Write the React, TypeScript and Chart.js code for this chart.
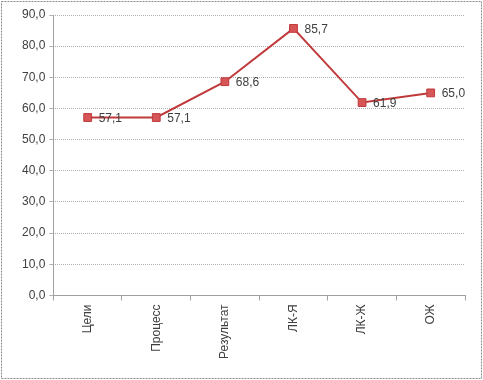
import React, { useEffect, useRef } from "react";
import { Chart, registerables } from "chart.js";

Chart.register(...registerables);

const categories = ["Цели", "Процесс", "Результат", "ЛК-Я", "ЛК-Ж", "ОЖ"];
const values = [57.1, 57.1, 68.6, 85.7, 61.9, 65.0];
const yMin = 0;
const yMax = 90;
const yStep = 10;

const FONT = "'Liberation Sans', Arial, sans-serif";

const fmt = (v: number) => v.toFixed(1).replace(".", ",");

const borderPlugin = {
  id: "outerBorder",
  beforeDatasetsDraw(chart: any) {
    const { ctx, chartArea } = chart;
    ctx.save();
    ctx.strokeStyle = "#a0a0a0";
    ctx.lineWidth = 1;
    ctx.beginPath();
    const x = Math.round(chartArea.left) + 0.5;
    ctx.moveTo(x, chartArea.top);
    ctx.lineTo(x, chartArea.bottom);
    ctx.stroke();
    ctx.restore();
  },
  afterDraw(chart: any) {
    const { ctx, width, height } = chart;
    ctx.save();
    ctx.strokeStyle = "#8c8c8c";
    ctx.lineWidth = 1;
    ctx.setLineDash([2, 1]);
    ctx.strokeRect(1.5, 1.5, width - 3, height - 3);
    ctx.restore();
  },
};

const labelPlugin = {
  id: "pointLabels",
  afterDatasetsDraw(chart: any) {
    const { ctx } = chart;
    const meta = chart.getDatasetMeta(0);
    ctx.save();
    ctx.font = `12px ${FONT}`;
    ctx.fillStyle = "#404040";
    ctx.textAlign = "left";
    ctx.textBaseline = "middle";
    meta.data.forEach((pt: any, i: number) => {
      ctx.fillText(fmt(values[i]), pt.x + 11, pt.y + 1);
    });
    ctx.restore();
  },
};

export default function App() {
  const ref = useRef<HTMLCanvasElement>(null);
  useEffect(() => {
    document.body.style.margin = "0";
    const chart = new Chart(ref.current!, {
      type: "line",
      data: {
        labels: categories,
        datasets: [
          {
            data: values,
            borderColor: "#c0393b",
            borderWidth: 2,
            backgroundColor: "#d0494b",
            pointStyle: "rect",
            pointRadius: 5.5,
            pointBorderColor: "#c0393b",
            pointBorderWidth: 1,
            pointBackgroundColor: "#d65557",
            tension: 0,
          },
        ],
      },
      options: {
        animation: false,
        responsive: false,
        maintainAspectRatio: false,
        layout: { padding: { left: 18, right: 18, top: 15, bottom: 17 } },
        plugins: { legend: { display: false }, tooltip: { enabled: false } },
        scales: {
          x: {
            offset: true,
            grid: {
              display: true,
              offset: true,
              drawOnChartArea: false,
              tickLength: 5,
              color: "#a0a0a0",
            },
            border: { color: "#a0a0a0" },
            ticks: {
              maxRotation: 90,
              minRotation: 90,
              padding: 4,
              color: "#404040",
              font: { family: FONT, size: 12 },
            },
          },
          y: {
            min: yMin,
            max: yMax,
            ticks: {
              stepSize: yStep,
              padding: 4,
              color: "#404040",
              font: { family: FONT, size: 12 },
              callback: (v: any) => fmt(Number(v)),
            },
            grid: { color: "#b0b0b0", tickLength: 4 },
            border: { display: false, dash: [1, 1] },
          },
        },
      },
      plugins: [borderPlugin, labelPlugin],
    });
    return () => chart.destroy();
  }, []);
  return <canvas ref={ref} width={483} height={380} style={{ display: "block" }} />;
}
